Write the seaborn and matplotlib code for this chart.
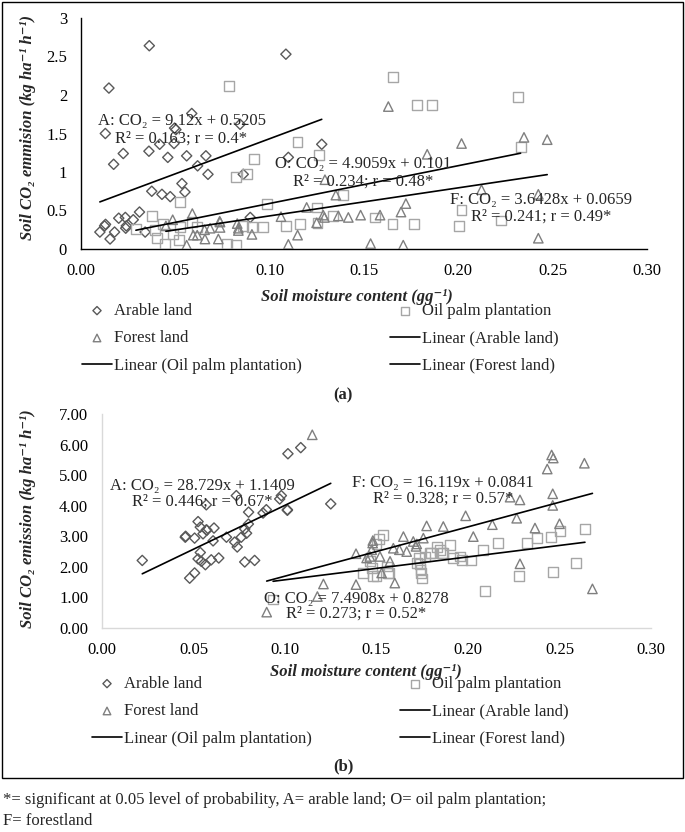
import matplotlib
matplotlib.use("Agg")
import matplotlib.pyplot as plt
import numpy as np
import seaborn as sns
from matplotlib.patches import Rectangle

# ---------------- data: panel (a) ----------------
a_arable_x = [0.0362, 0.0148, 0.0129, 0.0173, 0.0224, 0.0360, 0.0417, 0.0493, 0.0460, 0.0503,
              0.0587, 0.0496, 0.0843, 0.0560, 0.0618, 0.0662, 0.0673, 0.0375, 0.0429, 0.0473,
              0.0535, 0.0551, 0.0860, 0.1099, 0.1276, 0.1086, 0.0897, 0.0100, 0.0125, 0.0154,
              0.0178, 0.0200, 0.0235, 0.0237, 0.0277, 0.0310, 0.0340, 0.0130, 0.0240]
a_arable_y = [2.64, 2.09, 1.50, 1.10, 1.24, 1.27, 1.36, 1.37, 1.19, 1.55,
              1.76, 1.57, 1.62, 1.21, 1.08, 1.21, 0.97, 0.75, 0.71, 0.68,
              0.85, 0.74, 0.97, 1.19, 1.36, 2.53, 0.41, 0.22, 0.30, 0.13,
              0.22, 0.40, 0.41, 0.27, 0.38, 0.48, 0.22, 0.32, 0.30]
a_oil_x = [0.0786, 0.1148, 0.1263, 0.0917, 0.0821, 0.0881, 0.0526, 0.0987, 0.0291, 0.0376,
           0.0394, 0.0404, 0.0445, 0.0436, 0.0489, 0.0518, 0.0525, 0.0587, 0.0613, 0.0772,
           0.0821, 0.0860, 0.0963, 0.0908, 0.1086, 0.1160, 0.1249, 0.1254, 0.1337, 0.1655,
           0.1779, 0.1862, 0.1387, 0.1558, 0.1651, 0.1765, 0.2318, 0.2330, 0.2017, 0.2005,
           0.2226]
a_oil_y = [2.12, 1.39, 1.22, 1.17, 0.94, 0.97, 0.61, 0.58, 0.26, 0.43,
           0.25, 0.14, 0.06, 0.32, 0.20, 0.12, 0.29, 0.35, 0.29, 0.06,
           0.05, 0.30, 0.29, 0.29, 0.30, 0.32, 0.54, 0.34, 0.43, 2.23,
           1.87, 1.87, 0.70, 0.41, 0.32, 0.32, 1.97, 1.33, 0.51, 0.30,
           0.37]
a_forest_x = [0.0590, 0.0560, 0.0486, 0.0595, 0.0616, 0.0657, 0.0684, 0.0728, 0.0737, 0.0737,
              0.0834, 0.0834, 0.0906, 0.1060, 0.1099, 0.1148, 0.1196, 0.1293, 0.1284, 0.1249,
              0.1351, 0.1364, 0.1629, 0.1835, 0.1417, 0.1482, 0.1585, 0.1696, 0.1722, 0.1535,
              0.1708, 0.2017, 0.2348, 0.2471, 0.2123, 0.2424, 0.2424, 0.0735, 0.0828, 0.0655,
              0.0450, 0.1290]
a_forest_y = [0.46, 0.05, 0.38, 0.18, 0.18, 0.13, 0.27, 0.13, 0.35, 0.28,
              0.27, 0.24, 0.19, 0.42, 0.06, 0.18, 0.54, 0.90, 0.44, 0.34,
              0.70, 0.43, 1.85, 1.23, 0.41, 0.44, 0.44, 0.48, 0.59, 0.07,
              0.05, 1.37, 1.45, 1.42, 0.77, 0.71, 0.14, 0.36, 0.33, 0.25,
              0.30, 0.41]
# slope, intercept of the linear trendlines (arable, oil palm, forest)
a_slopes = [9.12, 4.9059, 3.6428]
a_intercepts = [0.5205, 0.101, 0.0659]
a_eq_labels = ["A: CO\u2082 = 9.12x + 0.5205\nR\u00b2 = 0.163; r = 0.4*",
               "O: CO\u2082 = 4.9059x + 0.101\nR\u00b2 = 0.234; r = 0.48*",
               "F: CO\u2082 = 3.6428x + 0.0659\nR\u00b2 = 0.241; r = 0.49*"]

# ---------------- data: panel (b) ----------------
b_arable_x = [0.0220, 0.0479, 0.0506, 0.0455, 0.0457, 0.0506, 0.0525, 0.0537, 0.0552, 0.0570,
              0.0573, 0.0612, 0.0607, 0.0537, 0.0525, 0.0543, 0.0565, 0.0597, 0.0638, 0.0570,
              0.0680, 0.0734, 0.0725, 0.0739, 0.0761, 0.0780, 0.0790, 0.0800, 0.0801, 0.0780,
              0.0834, 0.0880, 0.0898, 0.0971, 0.0980, 0.1013, 0.1013, 0.1016, 0.1086, 0.1250]
b_arable_y = [2.21, 1.63, 1.80, 2.97, 3.00, 2.94, 3.48, 3.30, 3.08, 3.21,
              3.20, 3.27, 2.85, 2.47, 2.26, 2.18, 2.07, 2.23, 2.29, 4.03,
              2.97, 4.33, 2.81, 2.65, 2.97, 3.24, 3.10, 3.40, 3.79, 2.16,
              2.21, 3.76, 3.87, 4.22, 4.33, 3.87, 3.85, 5.70, 5.90, 4.06]
b_oil_x = [0.0935, 0.1537, 0.1515, 0.1500, 0.1428, 0.1474, 0.1500, 0.1565, 0.1556, 0.1464,
           0.1483, 0.1570, 0.1720, 0.1738, 0.1740, 0.1742, 0.1750, 0.1734, 0.1765, 0.1792,
           0.1800, 0.1830, 0.1847, 0.1856, 0.1865, 0.1900, 0.1920, 0.1956, 0.1966, 0.2015,
           0.2084, 0.2093, 0.2166, 0.2279, 0.2324, 0.2375, 0.2454, 0.2463, 0.2503, 0.2588,
           0.2639]
b_oil_y = [0.93, 3.05, 2.90, 2.75, 1.80, 1.96, 1.69, 1.80, 2.01, 2.18,
           1.71, 1.80, 2.12, 2.10, 1.90, 1.80, 1.62, 2.29, 2.34, 2.45,
           2.45, 2.65, 2.56, 2.45, 2.45, 2.72, 2.29, 2.34, 2.23, 2.21,
           2.56, 1.20, 2.78, 1.69, 2.78, 2.94, 2.99, 1.82, 3.16, 2.12,
           3.24]
b_forest_x = [0.1149, 0.1210, 0.1177, 0.0900, 0.1388, 0.1600, 0.1388, 0.1464, 0.1479, 0.1480,
              0.1474, 0.1519, 0.1574, 0.1528, 0.1592, 0.1647, 0.1665, 0.1701, 0.1716, 0.1720,
              0.1756, 0.1774, 0.1865, 0.1987, 0.2029, 0.2133, 0.2230, 0.2284, 0.2266, 0.2284,
              0.2366, 0.2433, 0.2457, 0.2466, 0.2463, 0.2463, 0.2500, 0.2636, 0.2680, 0.1446,
              0.1625]
b_forest_y = [6.32, 1.44, 1.03, 0.52, 1.42, 1.47, 2.43, 2.34, 2.78, 2.86,
              2.56, 2.34, 2.18, 1.80, 2.61, 2.99, 2.50, 2.83, 2.67, 2.75,
              2.94, 3.34, 3.32, 3.67, 2.99, 3.38, 4.28, 4.19, 3.59, 2.10,
              3.27, 5.20, 5.66, 5.56, 4.39, 4.01, 3.41, 5.39, 1.28, 2.29,
              2.56]
b_slopes = [28.729, 7.4908, 16.119]
b_intercepts = [1.1409, 0.8278, 0.0841]
b_eq_labels = ["A: CO\u2082 = 28.729x + 1.1409\nR\u00b2 = 0.446; r = 0.67*",
               "O: CO\u2082 = 7.4908x + 0.8278\nR\u00b2 = 0.273; r = 0.52*",
               "F: CO\u2082 = 16.119x + 0.0841\nR\u00b2 = 0.328; r = 0.57*"]

series_names = ["Arable land", "Oil palm plantation", "Forest land"]
markers = ["D", "s", "^"]
marker_sizes = [27, 50, 46]
colors = ["#595959", "#A6A6A6", "#7F7F7F"]

sns.set_style("white")
plt.rcParams["font.family"] = ["Liberation Serif", "DejaVu Serif"]

W, H = 685, 832
fig = plt.figure(figsize=(W / 100, H / 100), dpi=100)


def fx(px):
    return px / W


def fy(py):
    return 1 - py / H


def draw_panel(ax, xs, ys, slopes, intercepts):
    for name, x, y, m, s, c in zip(series_names, xs, ys, markers, marker_sizes, colors):
        sns.scatterplot(x=x, y=y, ax=ax, marker=m, s=s, facecolor="none", edgecolor=c,
                        linewidth=1.0, label=name, zorder=3)
    for name, x, k, b in zip(series_names, xs, slopes, intercepts):
        xx = np.array([min(x), max(x)])
        sns.lineplot(x=xx, y=k * xx + b, ax=ax, color="black", linewidth=1.2,
                     label=f"Linear ({name})", zorder=4)
    ax.set_xlim(0, 0.30)
    ax.set_xticks(np.arange(0, 0.31, 0.05))
    ax.set_xticklabels([f"{v:.2f}" for v in np.arange(0, 0.31, 0.05)], fontsize=12)
    ax.set_xlabel("")
    ax.set_ylabel("")


def add_legend(ax, x0, y0):
    handles, labels = ax.get_legend_handles_labels()
    lookup = dict(zip(labels, handles))
    order = ["Arable land", "Forest land", "Linear (Oil palm plantation)",
             "Oil palm plantation", "Linear (Arable land)", "Linear (Forest land)"]
    ax.legend([lookup[o] for o in order], order, ncol=2, loc="upper left",
              bbox_to_anchor=(fx(x0), fy(y0)), bbox_transform=fig.transFigure,
              frameon=False, borderpad=0, borderaxespad=0, handlelength=1.8,
              handletextpad=0.1, columnspacing=5.3, labelspacing=0.68,
              fontsize=12, markerscale=0.8)


label_kw = dict(fontsize=12, fontweight="bold", style="italic")

# ---------------- panel (a) ----------------
ax1 = fig.add_axes([fx(81), fy(249), fx(647 - 81), (249 - 18) / H])
draw_panel(ax1, [a_arable_x, a_oil_x, a_forest_x], [a_arable_y, a_oil_y, a_forest_y],
           a_slopes, a_intercepts)
ax1.set_ylim(0, 3)
ax1.set_yticks(np.arange(0, 3.01, 0.5))
ax1.set_yticklabels([f"{v:g}" for v in np.arange(0, 3.01, 0.5)], fontsize=12)
for side in ["top", "right"]:
    ax1.spines[side].set_visible(False)
for side in ["left", "bottom"]:
    ax1.spines[side].set_color("black")
    ax1.spines[side].set_linewidth(1.0)
ax1.tick_params(axis="x", direction="out", length=5, width=1, pad=5, colors="black")
ax1.tick_params(axis="y", direction="in", length=5, width=1, pad=10, colors="black")
for txt, (x, y) in zip(a_eq_labels, [(0.0533, 1.55), (0.1494, 0.99), (0.2438, 0.53)]):
    ax1.text(x, y, txt, ha="center", va="center", fontsize=12, multialignment="center",
             linespacing=1.1, zorder=5)
add_legend(ax1, 82, 303)

fig.text(fx(28), fy(127), "Soil CO\u2082 emmision (kg ha\u207b\u00b9 h\u207b\u00b9)",
         rotation=90, ha="center", va="center", **label_kw)
fig.text(fx(357), fy(297), "Soil moisture content (gg\u207b\u00b9)", ha="center", va="center",
         **label_kw)
fig.text(fx(343), fy(395), "(a)", ha="center", va="center", fontsize=12, fontweight="bold")

# ---------------- panel (b) ----------------
ax2 = fig.add_axes([fx(102), fy(628), fx(651 - 102), (628 - 414) / H])
draw_panel(ax2, [b_arable_x, b_oil_x, b_forest_x], [b_arable_y, b_oil_y, b_forest_y],
           b_slopes, b_intercepts)
ax2.set_ylim(0, 7)
ax2.set_yticks(np.arange(0, 7.01, 1))
ax2.set_yticklabels([f"{v:.2f}" for v in np.arange(0, 7.01, 1)], fontsize=12)
for side in ["top", "right"]:
    ax2.spines[side].set_visible(False)
for side in ["left", "bottom"]:
    ax2.spines[side].set_color("#D9D9D9")
    ax2.spines[side].set_linewidth(1.0)
ax2.tick_params(axis="both", length=0, colors="black")
ax2.tick_params(axis="x", pad=10)
ax2.tick_params(axis="y", pad=10)
for txt, (x, y) in zip(b_eq_labels, [(0.0549, 4.39), (0.1388, 0.71), (0.1863, 4.49)]):
    ax2.text(x, y, txt, ha="center", va="center", fontsize=12, multialignment="center",
             linespacing=0.95, zorder=5)
add_legend(ax2, 92, 676)

fig.text(fx(28), fy(519), "Soil CO\u2082 emission (kg ha\u207b\u00b9 h\u207b\u00b9)",
         rotation=90, ha="center", va="center", **label_kw)
fig.text(fx(366), fy(672), "Soil moisture content (gg\u207b\u00b9)", ha="center", va="center",
         **label_kw)
fig.text(fx(343), fy(766), "(b)", ha="center", va="center", fontsize=12, fontweight="bold")

# outer frame and footnote
fig.add_artist(Rectangle((fx(2), fy(778)), fx(681), (778 - 2) / H, transform=fig.transFigure,
                         fill=False, edgecolor="black", linewidth=1.0))
fig.text(fx(3), fy(800), "*= significant at 0.05 level of probability, A= arable land; "
         "O= oil palm plantation;", ha="left", va="center", fontsize=12)
fig.text(fx(3), fy(821), "F= forestland", ha="left", va="center", fontsize=12)

fig.savefig("out.png", dpi=100)
plt.close(fig)
